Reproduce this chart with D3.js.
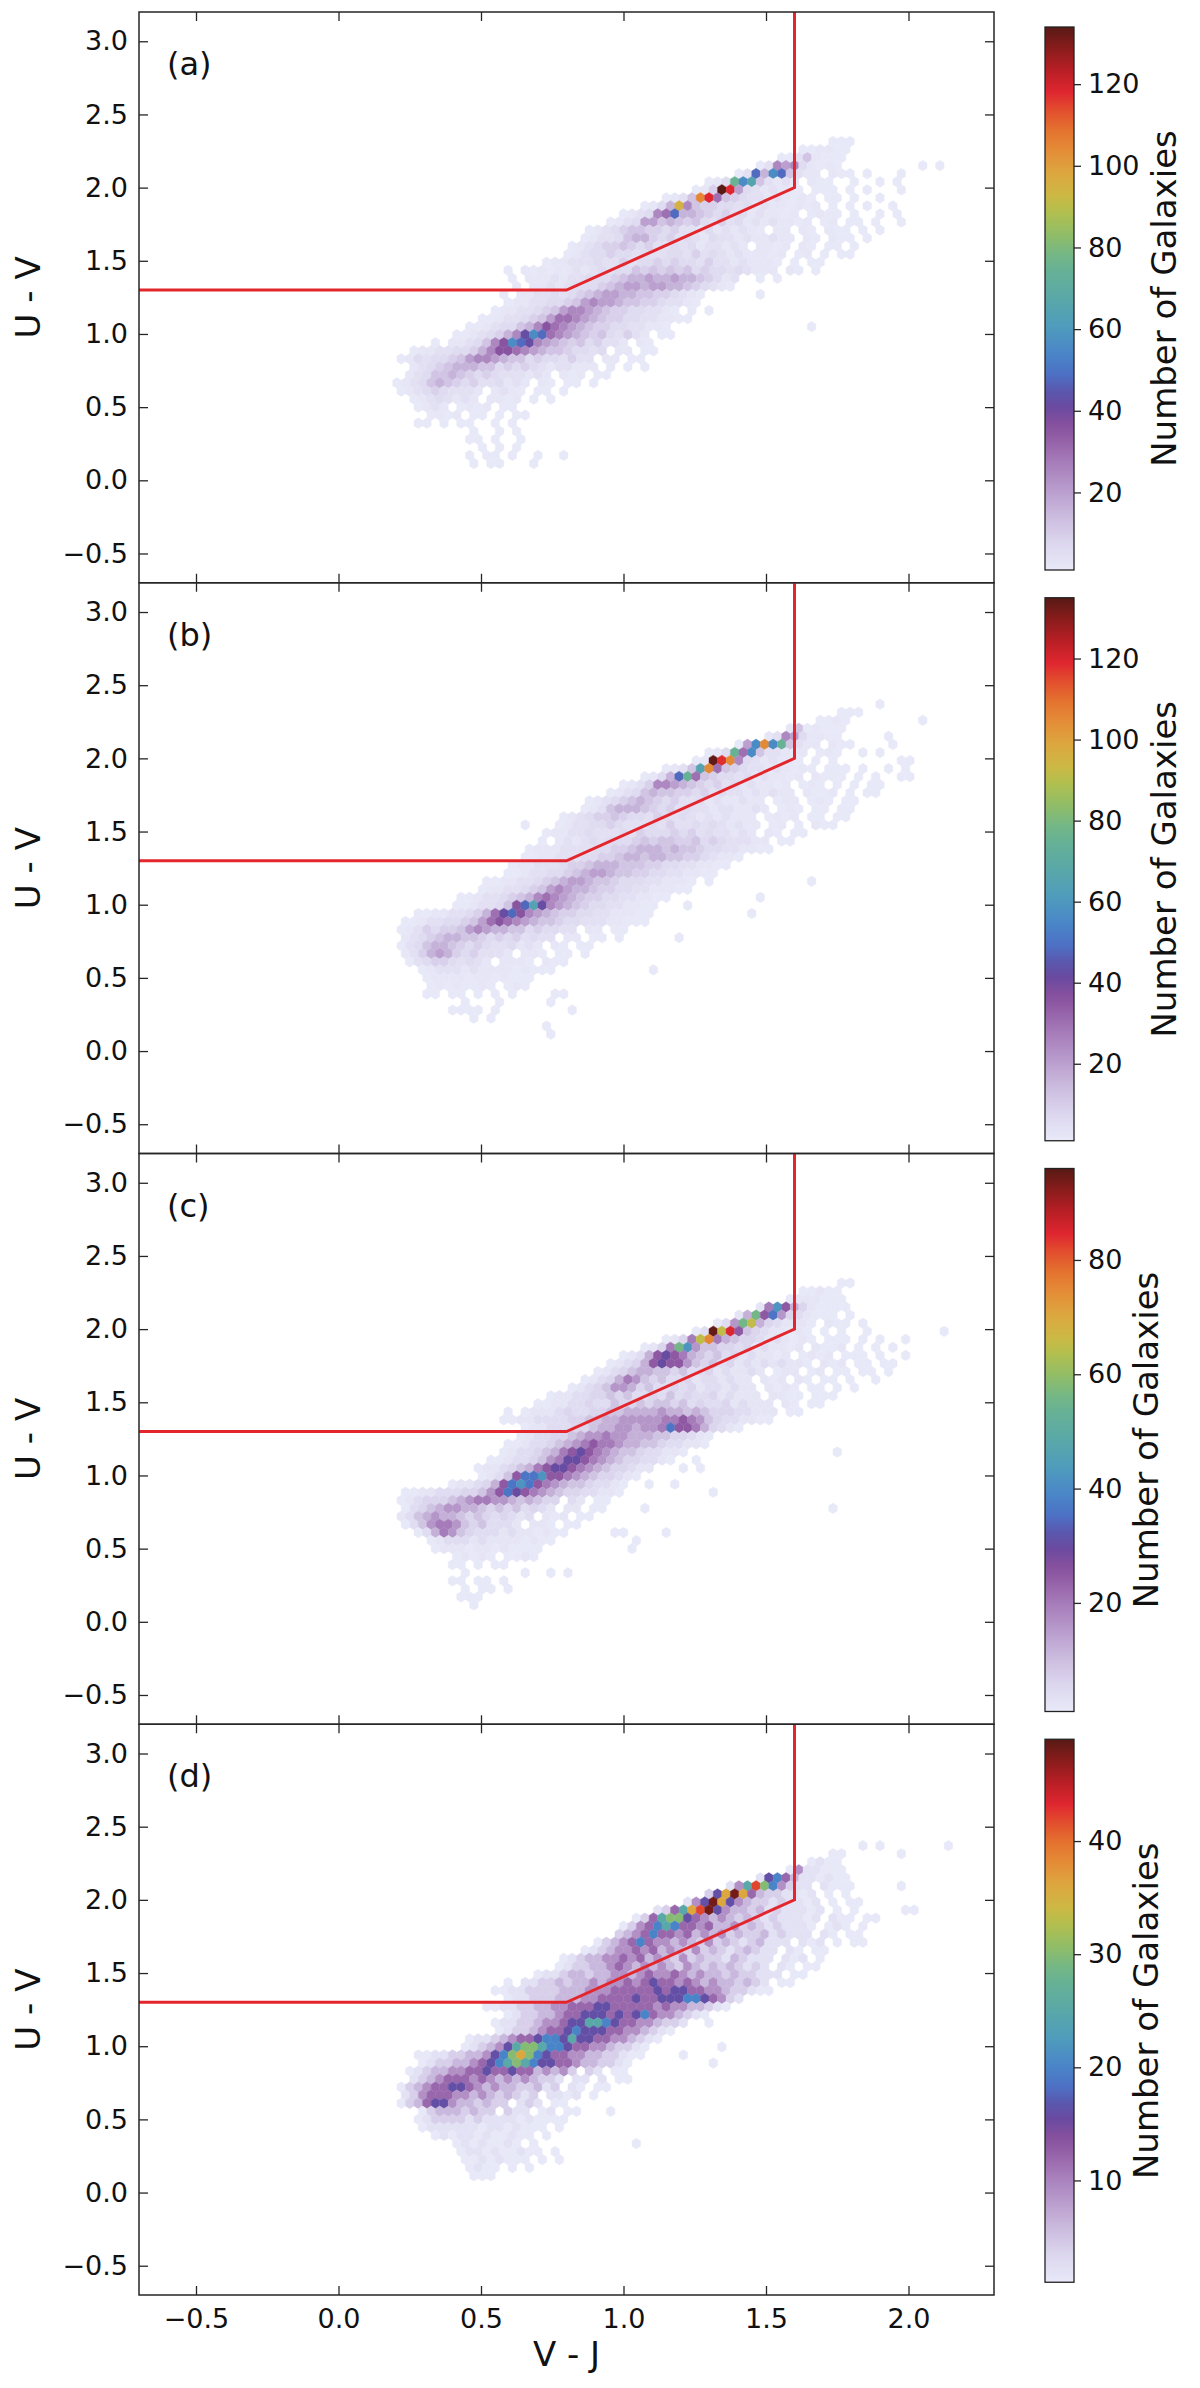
<!DOCTYPE html>
<html>
<head>
<meta charset="utf-8">
<title>UVJ hexbin panels</title>
<script src="https://cdn.jsdelivr.net/npm/d3@7"></script>
<style>
  body { margin: 0; background: #fff; }
  svg { display: block; }
  text { font-family: "DejaVu Sans", sans-serif; fill: #111; }
</style>
</head>
<body>
<div id="chart"></div>
<script>
// ---- values ----
const xTicks = [-0.5, 0, 0.5, 1, 1.5, 2];
const yTicks = [-0.5, 0, 0.5, 1, 1.5, 2, 2.5, 3];
const wedgeX = [-0.8, 0.8, 1.6, 1.6];
const wedgeY = [1.3, 1.3, 2.0, 3.4];
const panelNames = ["(a)", "(b)", "(c)", "(d)"];
const vmaxes = [134, 135, 96, 49];
const cbarTicks = [
  [20, 40, 60, 80, 100, 120],
  [20, 40, 60, 80, 100, 120],
  [20, 40, 60, 80],
  [10, 20, 30, 40]
];

// colormap of the colour bars
const cmapStops = [0, 0.05, 0.10, 0.15, 0.20, 0.25, 0.27, 0.30, 0.33, 0.36, 0.40, 0.45, 0.50,
  0.55, 0.58, 0.62, 0.66, 0.69, 0.73, 0.77, 0.81, 0.85, 0.88, 0.92, 0.96, 1.0];
const cmapColors = ["#e8e9f8", "#dcd6ee", "#cbbbde", "#b89bcc", "#a67bb9", "#8f5aa3", "#84509e",
  "#6a4aa0", "#5a58ae", "#4d70c4", "#4a86c8", "#4f9cbc", "#5aa8a8", "#66b196", "#74b786",
  "#92bd66", "#b3bf4e", "#cdb844", "#dca73f", "#e48e38", "#e4722f", "#e24a2e", "#df2630",
  "#b81f25", "#8a1c1c", "#571a15"];

// hex grid in data units: row 0 is the top row, odd rows shifted half a cell
const gridX0 = 0.10, gridDX = 0.03, gridY0 = 2.37, gridDY = 0.055;
// one character per cell, '.' = empty; the character indexes levelCounts
const levelChars = ".123456789abcdefghijklm";
const levelCounts = [0, 1, 2, 4, 6, 9, 12, 16, 20, 25, 30, 36, 42, 48, 56, 65, 75, 85, 95, 105, 118, 126, 134];

// [row, first column, cells]
const hexRowsA = [
  [1, 54, "111"],
  [2, 51, "112211"],
  [3, 48, "11362111"],
  [4, 46, "1398942121.........1.1"],
  [5, 43, "13d7ed6322.211.1...1"],
  [6, 40, "124gef63232.211..1..1.1"],
  [7, 38, "125mk84323221.111.1.1...1"],
  [8, 35, "1236jka65433232121.11.1..1"],
  [9, 32, "1247i9655443423221212.1.1.1..1"],
  [10, 30, "12349ad77654534232212.1211.1..1.1"],
  [11, 28, "123488676564353423232212.12.11.1..1"],
  [12, 26, "123456655453324232321.22.21.211.1.1."],
  [13, 25, "1233467754534324332322322.21.211.1"],
  [14, 24, "123455654533434233232.2212.21.11.1."],
  [15, 23, "12344544343344353432322212.12.1.11"],
  [16, 21, "1223334335344545443533232221.1.11"],
  [17, 16, "1.212122323434465656564544343222.21.1."],
  [18, 17, "1.2223233444567787787765423..1.1."],
  [19, 17, "1.223234445678878877654321"],
  [20, 16, "1.2233434567887766554321......1"],
  [21, 16, "12233445689887665543321"],
  [22, 15, "1223345689987655443321.1.1"],
  [23, 13, "112334568aa98765544332211"],
  [24, 12, "112344679ba9876554433221................1"],
  [25, 10, "11234579ceda98765643532.11"],
  [26, 8, "1.223469bedc98765645332.21"],
  [27, 5, "1223344579bba9876654434.22.11"],
  [28, 4, "12434456899876645443533.22.11"],
  [29, 5, "2345677766454543233222.2.1.1"],
  [30, 5, "23466765454333232.212.11"],
  [31, 3, "1234676545334232.21.11.1"],
  [32, 4, "1234543332.2321.11.1"],
  [33, 5, "12343232.2212.1.1"],
  [34, 6, "1232.1212.11"],
  [35, 7, "1212.11.1.11"],
  [36, 6, "11.1.11..1.1"],
  [37, 12, "1..1.1"],
  [38, 12, "11.1..1"],
  [39, 13, "1.1.1"],
  [40, 12, "1.11.1..1..1"],
  [41, 12, "1.11...1"]
];

const hexRowsB = [
  [0, 60, "1"],
  [1, 55, "111"],
  [2, 53, "1121........1"],
  [3, 49, "2612111"],
  [4, 47, "239842211.....1"],
  [5, 43, "18ejeg6322.211....1"],
  [6, 40, "124gae633212.121..1.1"],
  [7, 38, "12mkj94323221.1.1.......11"],
  [8, 35, "1236fja65433232121.111.1..1.1"],
  [9, 32, "1247dga654434232212.2111.1.1..11"],
  [10, 30, "12359987654534232212.121.1.1.11"],
  [11, 28, "1234676655453433232322.2112.1.11"],
  [12, 26, "123456765453342322322.122.121.11"],
  [13, 25, "1236777654534332332232.121.11.11"],
  [14, 23, "12345565443543432323222.1212.11.11"],
  [15, 18, "1...123344543334353343432322.12.1.211"],
  [16, 21, "1223343334354445453433232.21.11"],
  [17, 20, "1.2323434445656655645433322.11"],
  [18, 19, "12223333445567776766544332211"],
  [19, 18, "11223334455677677665543221"],
  [20, 17, "12233345567776665544332211"],
  [21, 16, "1123344567887665544332211"],
  [22, 14, "1122334567887665444332221.1...........1"],
  [23, 13, "1223345689877655443322211"],
  [24, 11, "1123345679a98765544332211..........1"],
  [25, 10, "1123346bdfc9876544332211...1"],
  [26, 6, "112233457acdb987655443322211...........1"],
  [27, 4, "1123344568aba9876654433322111"],
  [28, 4, "123545568987766454433.22.11"],
  [29, 4, "234567766545453433.22.11.1......1"],
  [30, 4, "13467765454334232.21.11"],
  [31, 4, "2357875453332.221.11.1"],
  [32, 5, "1345543432.2221.211"],
  [33, 6, "1233323222212111...........1"],
  [34, 7, "1222212212111"],
  [35, 7, "12121121.121"],
  [36, 7, "11.11.1.1.1....11"],
  [37, 11, "1...1.....1"],
  [38, 10, "1111.1........1"],
  [39, 12, "1.1"],
  [40, 21, "1"],
  [41, 21, "1"]
];

const hexRowsC = [
  [1, 55, "11"],
  [2, 51, "11211"],
  [3, 49, "1222111"],
  [4, 46, "28c96421111"],
  [5, 43, "26e9b7432111.1"],
  [6, 41, "137ef6432221.211.1"],
  [7, 38, "13ifh954322121.1.1..1........1"],
  [8, 35, "1248fg865443232121.111.1.1..1"],
  [9, 32, "1248ec7554434232212.2112.1.1.1"],
  [10, 30, "12369a98654534232212.1212.111.1..1"],
  [11, 28, "123469a99754534232323221.212.11.11"],
  [12, 27, "12345665545334232232.122.12.11.11.1"],
  [13, 25, "12346875453342332322.212.21.11.1..1"],
  [14, 24, "1234577645334342332322.2121.11.1.1"],
  [15, 21, "1223344545334353433423222.2211.111"],
  [16, 20, "1122334335445455453433423222.21.11"],
  [17, 16, "1.122234334455666676656544433222.11"],
  [18, 16, "11223333445566777778898754332211"],
  [19, 18, "12233344566776778b99864321"],
  [20, 18, "12334456778776665544321"],
  [21, 16, "112334567898876655433221"],
  [22, 16, "123345689a987655433221.................1"],
  [23, 14, "112334578aa98765443321..1"],
  [24, 13, "122345689aa9876544322...1.1"],
  [25, 13, "12359bbc99876544321"],
  [26, 10, "1223469bcb98765543321..1..1"],
  [27, 4, "112233344579ba987654433221..........1"],
  [28, 4, "1234445678877656544.32.11"],
  [29, 4, "134567766545453432.22.11....1.....................1"],
  [30, 4, "2356766545434323.212.11"],
  [31, 4, "13578875453332.221.11"],
  [32, 6, "136875433323221211.....11....1"],
  [33, 7, "123332322221211.........1"],
  [34, 8, "1222122121111..........1"],
  [35, 10, "12121.1121"],
  [36, 10, "11.1.11"],
  [37, 11, "1......1..1.1"],
  [38, 10, "11.11.1"],
  [39, 11, "1.11.1"],
  [40, 11, "111"],
  [41, 12, "1"]
];

const hexRowsD = [
  [0, 58, "1.1.......1"],
  [1, 54, "11......1"],
  [2, 52, "1211"],
  [3, 49, "1522111"],
  [4, 46, "27864221211"],
  [5, 42, "259ca85322.2111.....1"],
  [6, 40, "37bdb64332212.1.1"],
  [7, 37, "257db75433232212.1.11"],
  [8, 34, "2369bcd7544342322212.1.1.....11"],
  [9, 31, "1369aa7654543432322212.211.11"],
  [10, 30, "13568986656445343232221.121.1"],
  [11, 29, "34568665645453433423222.21.11"],
  [12, 27, "13456865545435343234222.212.1.11"],
  [13, 25, "12345565645435343234322.21.11"],
  [14, 23, "1234455656454353433243222.212.1"],
  [15, 22, "1233445654545435434343232.21.11"],
  [16, 20, "12234434455456556545443433222.11"],
  [17, 16, "1.22334344545565676656545443432.11"],
  [18, 15, "112233334445556666676776655433211"],
  [19, 16, "1223334445566667667778876532"],
  [20, 14, "11223344556667766666565544321"],
  [21, 16, "123344566777676786554321"],
  [22, 15, "12233455677998766554332..1"],
  [23, 15, "123345667877766554321"],
  [24, 12, "12234566788797766554321"],
  [25, 11, "1234579aa9887665543321........1"],
  [26, 6, "11223344578aba8766554433211....1"],
  [27, 6, "12334456789a9877665443321.........1"],
  [28, 5, "12344556676676645453.32.11"],
  [29, 5, "234566656545454332.22.2.11"],
  [30, 4, "1345667765454433423.21.11"],
  [31, 4, "2356665545434323.2212.1"],
  [32, 4, "1346775443433.232.11"],
  [33, 6, "134443433.322.12.11...1"],
  [34, 6, "123333232222121111"],
  [35, 6, "122222212212111.1"],
  [36, 8, "121221211211.1"],
  [37, 10, "12121121.1...........1"],
  [38, 11, "1221211211.1"],
  [39, 11, "11212111.1.1"],
  [40, 12, "1211.1.1"],
  [41, 12, "111"]
];

// ---- layout ----
const W = 1200, H = 2388;
const left = 139, right = 994, top0 = 12, panelH = 570.75;
const cbX = 1045, cbW = 29;
const frameColor = "#262626";

const svg = d3.select("#chart")
  .append("svg")
  .attr("width", W)
  .attr("height", H);

svg.append("rect").attr("width", W).attr("height", H).attr("fill", "#fff");

const defs = svg.append("defs");

const cmap = d3.scaleLinear()
  .domain(cmapStops)
  .range(cmapColors)
  .interpolate(d3.interpolateRgb)
  .clamp(true);

const grad = defs.append("linearGradient")
  .attr("id", "cbgrad")
  .attr("x1", 0).attr("y1", 1)
  .attr("x2", 0).attr("y2", 0);
grad.selectAll("stop")
  .data(cmapStops)
  .join("stop")
  .attr("offset", d => d)
  .attr("stop-color", (d, i) => cmapColors[i]);

const x = d3.scaleLinear().domain([-0.7, 2.3]).range([left, right]);

const allRows = [hexRowsA, hexRowsB, hexRowsC, hexRowsD];
const panels = panelNames.map((name, i) => ({
  name: name, vmax: vmaxes[i], ticks: cbarTicks[i], rows: allRows[i]
}));

function styleAxis(g, size) {
  g.select(".domain").remove();
  g.attr("font-size", size).attr("font-family", null);
  g.selectAll(".tick line").attr("stroke", frameColor).attr("stroke-width", 1.3);
}

panels.forEach((p, i) => {
  const top = top0 + i * panelH;
  const bottom = top + panelH;
  const y = d3.scaleLinear().domain([-0.7, 3.2]).range([bottom, top]);

  const clipId = "clip" + i;
  defs.append("clipPath").attr("id", clipId)
    .append("rect")
    .attr("x", left).attr("y", top)
    .attr("width", right - left).attr("height", panelH);

  // hex cells
  const cells = [];
  p.rows.forEach(([r, c0, s]) => {
    for (let k = 0; k < s.length; k++) {
      const lvl = levelChars.indexOf(s[k]);
      if (lvl <= 0) continue;
      cells.push({
        vx: gridX0 + (c0 + k) * gridDX + (r % 2 ? gridDX / 2 : 0),
        vy: gridY0 - r * gridDY,
        n: levelCounts[lvl]
      });
    }
  });

  const hw = (x(gridDX) - x(0)) / 2;
  const tip = y(0) - y(gridDY * 2 / 3);
  const hex = `M0,${-tip}L${hw},${-tip / 2}L${hw},${tip / 2}L0,${tip}L${-hw},${tip / 2}L${-hw},${-tip / 2}Z`;
  const norm = d3.scaleLinear().domain([1, p.vmax]).range([0, 1]).clamp(true);

  const plot = svg.append("g").attr("clip-path", `url(#${clipId})`);

  plot.selectAll("path.hex")
    .data(cells)
    .join("path")
    .attr("class", "hex")
    .attr("d", hex)
    .attr("transform", d => `translate(${x(d.vx)},${y(d.vy)})`)
    .attr("fill", d => cmap(norm(d.n)))
    .attr("stroke", d => cmap(norm(d.n)))
    .attr("stroke-width", 0.4);

  // selection wedge
  const line = d3.line().x(d => x(d[0])).y(d => y(d[1]));
  plot.append("path")
    .datum(d3.zip(wedgeX, wedgeY))
    .attr("fill", "none")
    .attr("stroke", "#e3262c")
    .attr("stroke-width", 3)
    .attr("d", line);

  // axes, ticks pointing inward on all four sides
  const last = i === panels.length - 1;
  svg.append("g")
    .attr("transform", `translate(${left},0)`)
    .call(d3.axisLeft(y).tickValues(yTicks).tickSize(-9).tickPadding(11).tickFormat(d3.format(".1f")))
    .call(g => styleAxis(g, 27));
  svg.append("g")
    .attr("transform", `translate(${right},0)`)
    .call(d3.axisRight(y).tickValues(yTicks).tickSize(-9).tickFormat(""))
    .call(g => styleAxis(g, 27));
  svg.append("g")
    .attr("transform", `translate(0,${top})`)
    .call(d3.axisTop(x).tickValues(xTicks).tickSize(-9).tickFormat(""))
    .call(g => styleAxis(g, 27));
  svg.append("g")
    .attr("transform", `translate(0,${bottom})`)
    .call(d3.axisBottom(x).tickValues(xTicks).tickSize(-9).tickPadding(14)
      .tickFormat(last ? d3.format(".1f") : ""))
    .call(g => styleAxis(g, 27));

  svg.append("rect")
    .attr("x", left).attr("y", top)
    .attr("width", right - left).attr("height", panelH)
    .attr("fill", "none")
    .attr("stroke", frameColor)
    .attr("stroke-width", 1.5);

  svg.append("text")
    .attr("x", left + 28)
    .attr("y", top + 63)
    .attr("font-size", 32)
    .text(p.name);

  svg.append("text")
    .attr("transform", `translate(40,${top + panelH / 2}) rotate(-90)`)
    .attr("text-anchor", "middle")
    .attr("font-size", 34)
    .text("U - V");

  // colour bar
  const cbTop = top + 15, cbBot = top + 558;
  const yc = d3.scaleLinear().domain([1, p.vmax]).range([cbBot, cbTop]);
  svg.append("rect")
    .attr("x", cbX).attr("y", cbTop)
    .attr("width", cbW).attr("height", cbBot - cbTop)
    .attr("fill", "url(#cbgrad)")
    .attr("stroke", "#222")
    .attr("stroke-width", 1.3);

  const gc = svg.append("g")
    .attr("transform", `translate(${cbX + cbW},0)`)
    .call(d3.axisRight(yc).tickValues(p.ticks).tickSize(7).tickPadding(7).tickFormat(d3.format("d")))
    .call(g => styleAxis(g, 27));

  const bb = gc.node().getBBox();
  const labX = cbX + cbW + bb.x + bb.width + 10 + 26;
  svg.append("text")
    .attr("transform", `translate(${labX},${(cbTop + cbBot) / 2}) rotate(-90)`)
    .attr("text-anchor", "middle")
    .attr("font-size", 34)
    .text("Number of Galaxies");
});

svg.append("text")
  .attr("x", (left + right) / 2)
  .attr("y", 2366)
  .attr("text-anchor", "middle")
  .attr("font-size", 34)
  .text("V - J");
</script>
</body>
</html>
